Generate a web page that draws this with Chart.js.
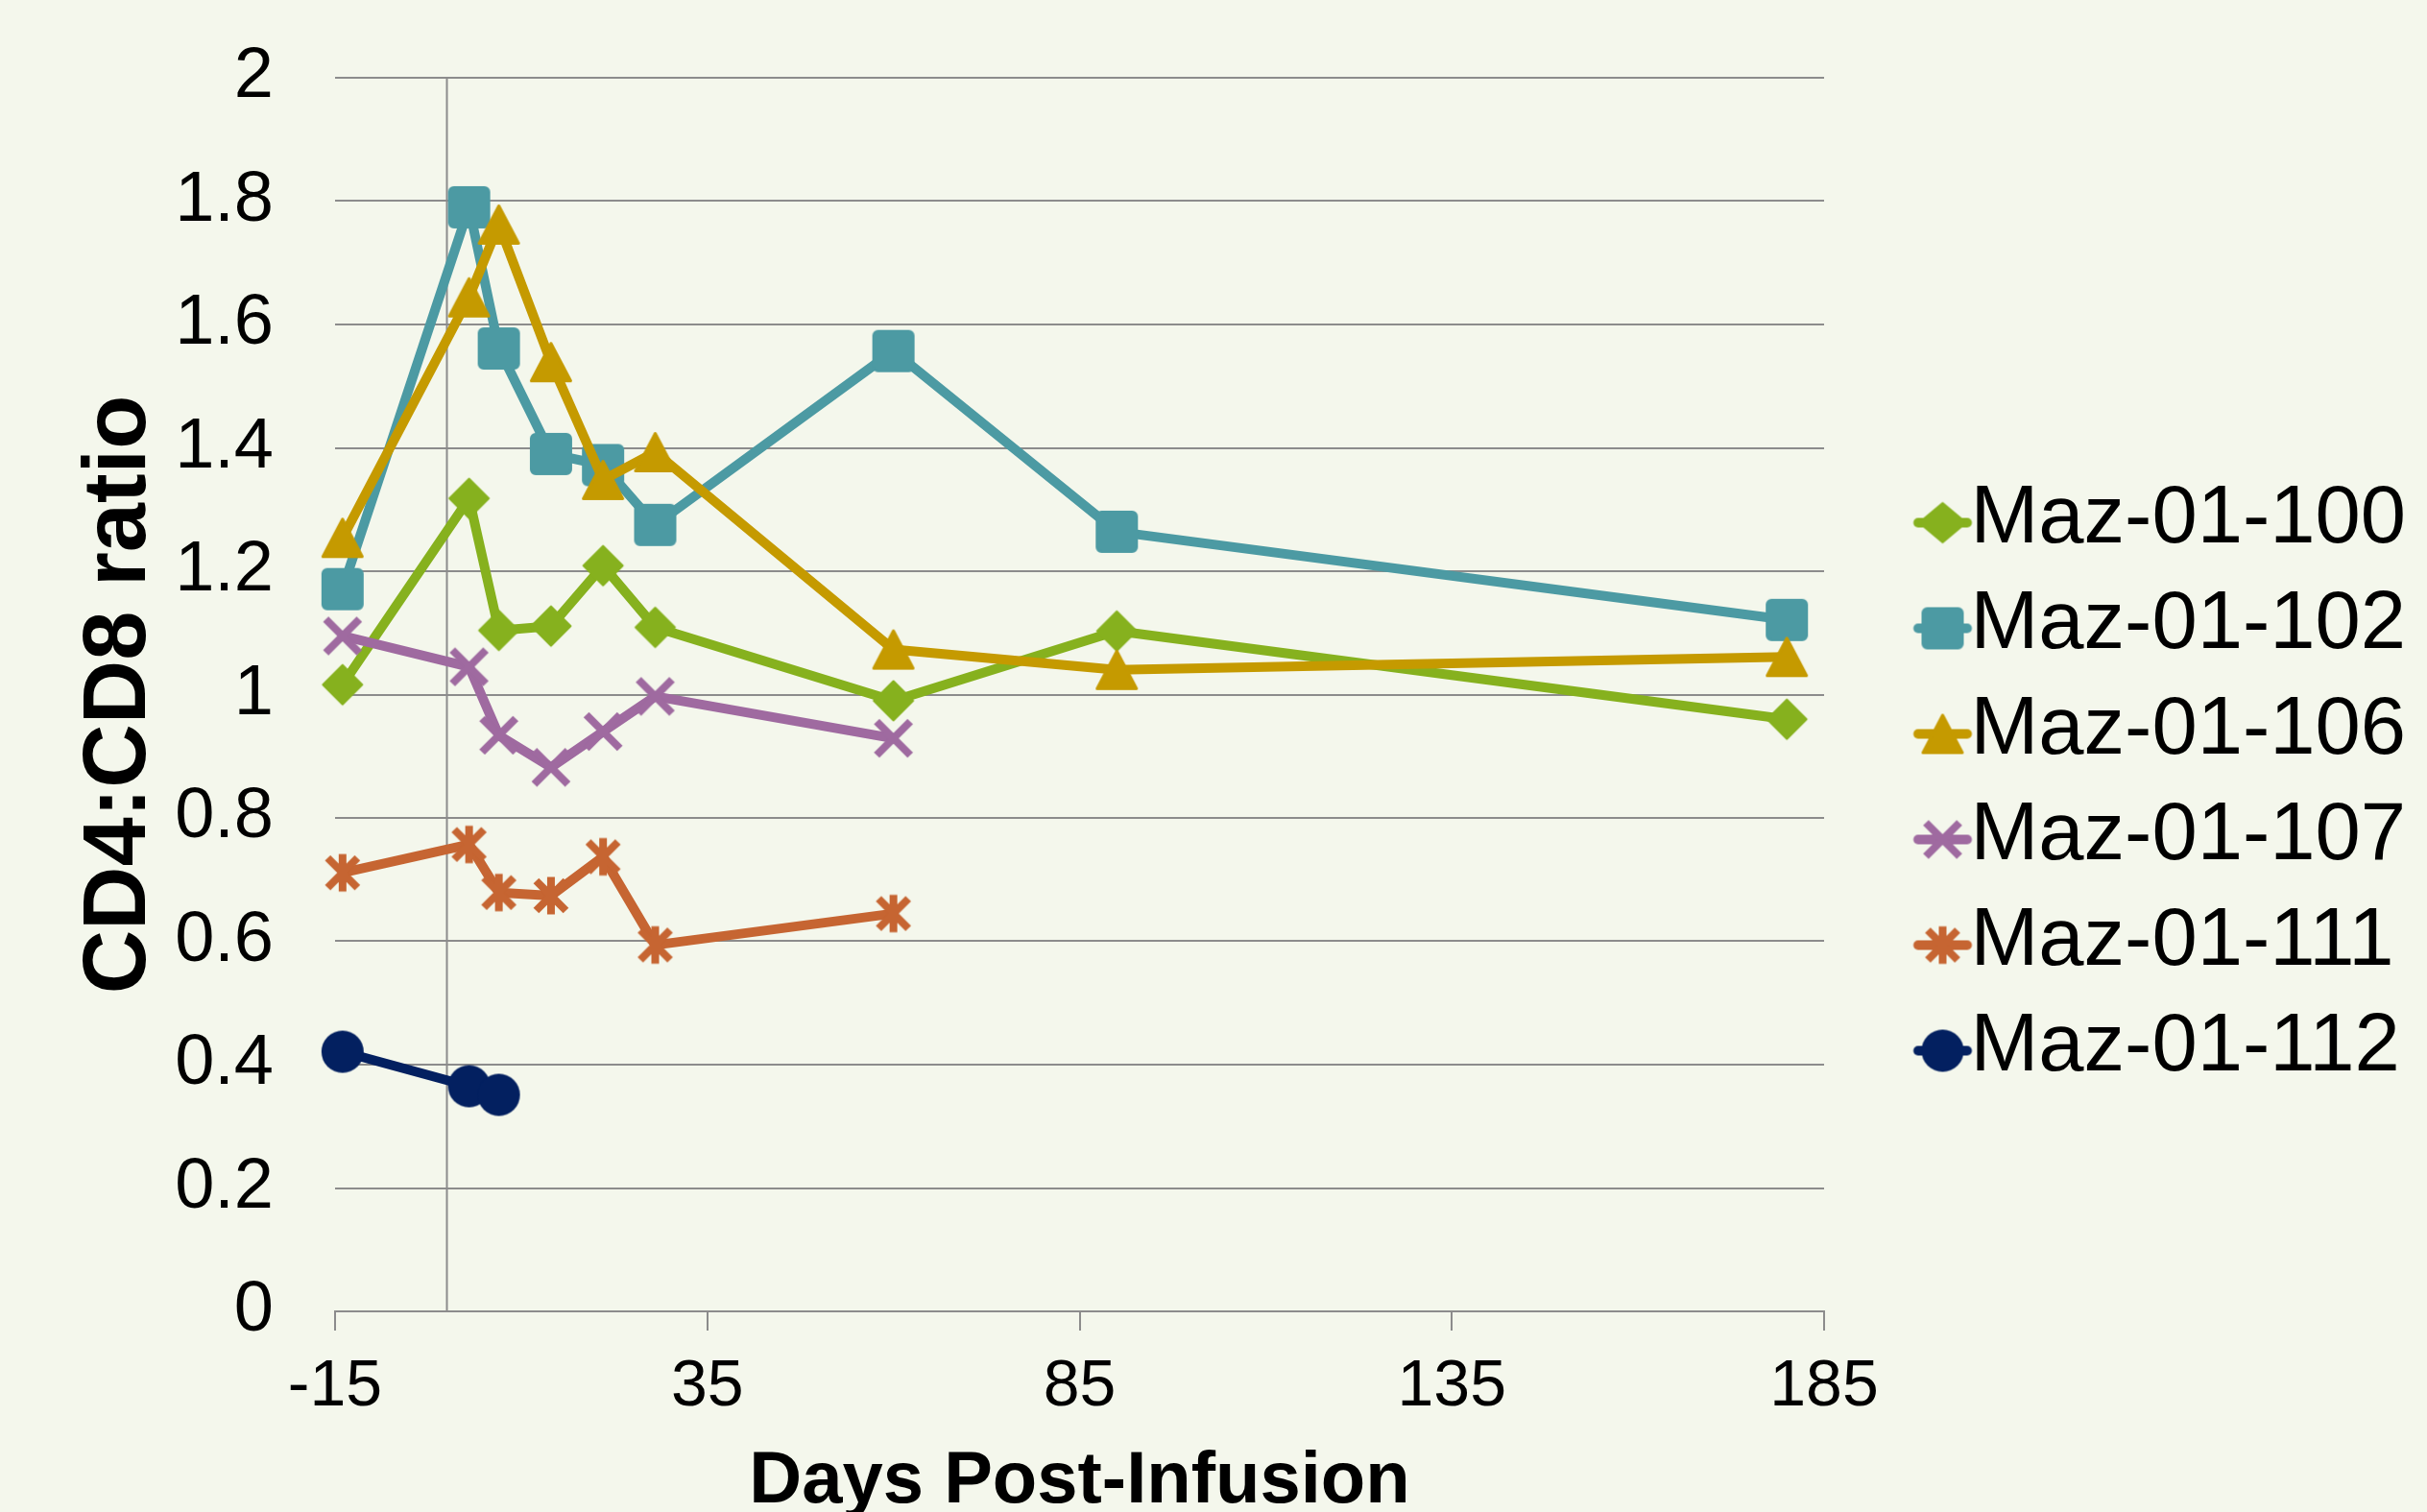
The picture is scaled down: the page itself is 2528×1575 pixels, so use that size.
<!DOCTYPE html>
<html>
<head>
<meta charset="utf-8">
<script src="https://cdn.jsdelivr.net/npm/chart.js@4/dist/chart.umd.min.js"></script>
<style>
html,body{margin:0;padding:0;background:#F4F7EC;}
canvas{display:block;}
</style>
</head>
<body>
<canvas id="chart" width="2528" height="1575" style="width:2528px;height:1575px"></canvas>
<script>
// ---------------- data ----------------
const seriesNames = ['Maz-01-100', 'Maz-01-102', 'Maz-01-106', 'Maz-01-107', 'Maz-01-111', 'Maz-01-112'];
const days = [-14, 3, 7, 14, 21, 28, 60, 90, 180];
const maz100 = [1.016, 1.318, 1.104, 1.111, 1.209, 1.109, 0.990, 1.103, 0.960];
const maz102 = [1.171, 1.790, 1.561, 1.390, 1.372, 1.275, 1.557, 1.264, 1.121];
const maz106 = [1.254, 1.644, 1.762, 1.539, 1.348, 1.393, 1.073, 1.040, 1.061];
const maz107 = [1.095, 1.045, 0.934, 0.882, 0.940, 0.997, 0.929];
const maz111 = [0.711, 0.757, 0.679, 0.674, 0.737, 0.594, 0.645];
const maz112 = [0.421, 0.365, 0.351];
const xTickLabels = ['-15', '35', '85', '135', '185'];
const yTickLabels = ['0', '0.2', '0.4', '0.6', '0.8', '1', '1.2', '1.4', '1.6', '1.8', '2'];
const xTitle = 'Days Post-Infusion';
const yTitle = 'CD4:CD8 ratio';

// ---------------- styles ----------------
const seriesValues = [maz100, maz102, maz106, maz107, maz111, maz112];
const colors = ['#86B11E', '#4C9AA3', '#C59A00', '#9F6AA0', '#C66532', '#032060'];
const markers = ['diamond', 'square', 'triangle', 'x', 'star', 'circle'];
const BG = '#F4F7EC';
const GRID = '#8C8C8C';
const FONT = "'Liberation Sans', Arial, Helvetica, sans-serif";

function fontAvailable(name) {
  const g = document.createElement('canvas').getContext('2d');
  const t = 'Days Post-Infusion mmwwll';
  let ok = true;
  for (const fb of ['monospace', 'serif']) {
    g.font = 'bold 80px ' + fb; const a = g.measureText(t).width;
    g.font = 'bold 80px "' + name + '", ' + fb; const b = g.measureText(t).width;
    if (Math.abs(a - b) < 0.5) ok = false;
  }
  return ok;
}
const narrow = fontAvailable('Liberation Sans Narrow');
const xTitleSize = narrow ? 89 : 76;
const xTitleFamily = narrow ? "'Liberation Sans Narrow', " + FONT : FONT;
// baseline of the x title sits 5px above the canvas bottom
const xTitlePadBottom = 5 + 0.3465 * xTitleSize - 0.4 * xTitleSize;

function drawMarker(ctx, kind, color, cx, cy, legend) {
  ctx.save();
  ctx.fillStyle = color;
  ctx.strokeStyle = color;
  ctx.lineJoin = 'round';
  ctx.beginPath();
  if (kind === 'diamond') {
    const hw = legend ? 24.5 : 20.5, hh = 20.5;
    ctx.moveTo(cx, cy - hh); ctx.lineTo(cx + hw, cy); ctx.lineTo(cx, cy + hh); ctx.lineTo(cx - hw, cy); ctx.closePath();
    ctx.lineWidth = 2; ctx.fill(); ctx.stroke();
  } else if (kind === 'square') {
    ctx.roundRect(cx - 21, cy - 21, 42, 42, 5);
    ctx.lineWidth = 2; ctx.fill(); ctx.stroke();
  } else if (kind === 'triangle') {
    ctx.moveTo(cx, cy - 19.5); ctx.lineTo(cx + 20.5, cy + 19.5); ctx.lineTo(cx - 20.5, cy + 19.5); ctx.closePath();
    ctx.lineWidth = 3; ctx.fill(); ctx.stroke();
  } else if (kind === 'x') {
    const d = 17.5;
    ctx.lineWidth = 8; ctx.lineCap = 'butt';
    ctx.moveTo(cx - d, cy - d); ctx.lineTo(cx + d, cy + d);
    ctx.moveTo(cx + d, cy - d); ctx.lineTo(cx - d, cy + d);
    ctx.stroke();
  } else if (kind === 'star') {
    const d = 15.5;
    ctx.lineWidth = 8; ctx.lineCap = 'butt';
    ctx.moveTo(cx - d, cy - d); ctx.lineTo(cx + d, cy + d);
    ctx.moveTo(cx + d, cy - d); ctx.lineTo(cx - d, cy + d);
    ctx.stroke();
    ctx.beginPath();
    ctx.lineWidth = 8;
    ctx.moveTo(cx, cy - 19.5); ctx.lineTo(cx, cy + 19.5);
    ctx.stroke();
  } else {
    ctx.arc(cx, cy, 22, 0, Math.PI * 2);
    ctx.fill();
  }
  ctx.restore();
}

function pointImage(kind, color) {
  const c = document.createElement('canvas');
  c.width = 54; c.height = 54;
  drawMarker(c.getContext('2d'), kind, color, 27, 27, false);
  return c;
}

function legendImage(kind, color) {
  const c = document.createElement('canvas');
  c.width = 176; c.height = 60;
  const g = c.getContext('2d');
  const sx = 144, sy = 33;
  g.strokeStyle = color; g.lineWidth = 10; g.lineCap = 'round';
  g.beginPath(); g.moveTo(sx - 25.5, sy); g.lineTo(sx + 25.5, sy); g.stroke();
  drawMarker(g, kind, color, sx, sy, true);
  return c;
}

const pointImages = markers.map((m, i) => pointImage(m, colors[i]));
const legendImages = markers.map((m, i) => legendImage(m, colors[i]));

const datasets = seriesNames.map((name, i) => ({
  label: name,
  data: seriesValues[i].map((v, j) => ({ x: days[j], y: v })),
  borderColor: colors[i],
  backgroundColor: colors[i],
  borderWidth: 10,
  borderJoinStyle: 'round',
  borderCapStyle: 'round',
  tension: 0,
  fill: false,
  pointStyle: pointImages[i],
  pointRadius: 22,
  pointHoverRadius: 22,
  clip: false,
  order: seriesNames.length - i
}));

const bgPlugin = {
  id: 'bg',
  beforeDraw(chart) {
    const ctx = chart.ctx;
    ctx.save(); ctx.fillStyle = BG; ctx.fillRect(0, 0, chart.width, chart.height); ctx.restore();
  }
};

const zeroAxisPlugin = {
  id: 'zeroAxis',
  beforeDatasetsDraw(chart) {
    const { ctx, scales } = chart;
    const x = scales.x, y = scales.y;
    const px = Math.round(x.getPixelForValue(0)) + 0.5;
    ctx.save();
    ctx.strokeStyle = GRID; ctx.lineWidth = 2;
    ctx.beginPath();
    ctx.moveTo(px, y.getPixelForValue(y.max));
    ctx.lineTo(px, y.getPixelForValue(y.min));
    ctx.stroke();
    ctx.restore();
  }
};

const legendWidthPlugin = {
  id: 'legendWidth',
  beforeLayout(chart) {
    const lg = chart.legend;
    if (lg && !lg.__patched) {
      const orig = lg.fit.bind(lg);
      lg.fit = function () { orig(); this.width = 628; };
      lg.__patched = true;
    }
  }
};

new Chart(document.getElementById('chart'), {
  type: 'line',
  data: { datasets },
  plugins: [bgPlugin, zeroAxisPlugin, legendWidthPlugin],
  options: {
    responsive: false,
    devicePixelRatio: 1,
    animation: false,
    events: [],
    layout: { padding: { top: 81, left: 0, right: 0, bottom: 0 } },
    scales: {
      x: {
        type: 'linear',
        min: -15, max: 185,
        ticks: {
          stepSize: 50, autoSkip: false, maxRotation: 0, padding: 18,
          color: '#000', font: { family: FONT, size: 68 },
          callback: (v, i) => xTickLabels[i]
        },
        grid: { drawOnChartArea: false, drawTicks: true, tickLength: 20, color: GRID, lineWidth: 2 },
        border: { display: true, color: GRID, width: 2 },
        title: {
          display: true, text: xTitle, color: '#000',
          font: { family: xTitleFamily, size: xTitleSize, weight: 'bold', lineHeight: 0.8 },
          padding: { top: 0, bottom: xTitlePadBottom }
        },
        afterFit: s => { s.height = 209; s.paddingLeft = 0; s.paddingRight = 0; }
      },
      y: {
        type: 'linear',
        min: 0, max: 2,
        ticks: {
          stepSize: 0.2, padding: 64,
          color: '#000', font: { family: FONT, size: 74 },
          callback: (v, i) => yTickLabels[i]
        },
        grid: { color: GRID, lineWidth: 2, drawTicks: false },
        border: { display: false },
        title: {
          display: true, text: yTitle, color: '#000',
          font: { family: FONT, size: 92, weight: 'bold', lineHeight: 1 },
          padding: { top: 80, bottom: 0 }
        },
        afterFit: s => { s.width = 349; s.paddingTop = 0; s.paddingBottom = 0; }
      }
    },
    plugins: {
      tooltip: { enabled: false },
      legend: {
        position: 'right',
        align: 'start',
        title: { display: true, text: '', font: { size: 1, lineHeight: 1 }, padding: { top: 392, bottom: 0 } },
        labels: {
          usePointStyle: true,
          pointStyleWidth: 85,
          padding: 25,
          color: '#000',
          font: { family: FONT, size: 85 },
          sort: (a, b) => a.datasetIndex - b.datasetIndex,
          generateLabels: chart => Chart.defaults.plugins.legend.labels.generateLabels(chart)
            .map(l => Object.assign({}, l, { pointStyle: legendImages[l.datasetIndex], fontColor: '#000' }))
        }
      }
    }
  }
});
</script>
</body>
</html>
